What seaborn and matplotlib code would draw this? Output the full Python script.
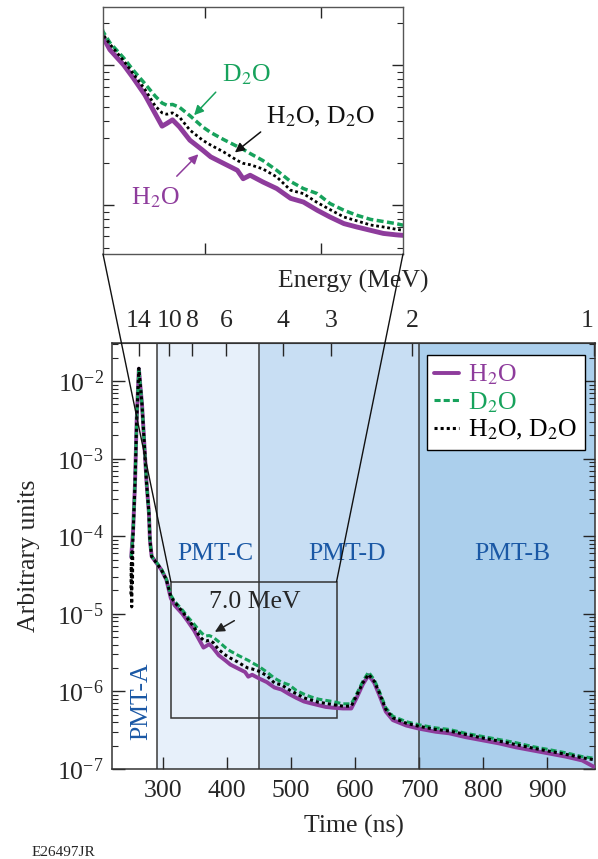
import numpy as np
import matplotlib
matplotlib.use('Agg')
import matplotlib.pyplot as plt
import matplotlib.ticker as mticker
import seaborn as sns
from matplotlib.patches import Rectangle, ConnectionPatch

# traces (log10 of arbitrary units vs. time in ns)
time_ns = [250, 253, 256, 258.5, 262, 267, 271.5, 274, 277.7, 279.3, 282, 290, 297, 305,
           312, 318, 330, 338, 348, 357, 363, 367, 372, 378, 387, 398, 405, 416, 428, 433,
           439, 450, 462, 474, 485, 497, 508, 520, 531, 543, 554, 565, 581, 594, 602, 612,
           621, 630, 638, 648, 659, 680, 700, 726, 747, 773, 799, 825, 851, 877, 903, 929,
           955, 973]
h2o_log = [-4.27, -3.92, -3.31, -2.52, -1.84, -2.31, -2.95, -3.31, -3.70, -4.05, -4.26, -4.35,
           -4.43, -4.56, -4.80, -4.89, -5.00, -5.09, -5.21, -5.345, -5.435, -5.416, -5.39,
           -5.44, -5.535, -5.606, -5.654, -5.70, -5.75, -5.81, -5.785, -5.833, -5.88, -5.95,
           -5.976, -6.035, -6.083, -6.13, -6.154, -6.178, -6.20, -6.21, -6.22, -6.22, -6.09,
           -5.91, -5.79, -5.89, -6.05, -6.26, -6.37, -6.44, -6.48, -6.52, -6.54, -6.59, -6.63,
           -6.67, -6.72, -6.76, -6.80, -6.84, -6.89, -6.97]
d2o_log = [-4.27, -3.92, -3.31, -2.52, -1.83, -2.31, -2.95, -3.31, -3.70, -4.05, -4.26, -4.34,
           -4.42, -4.55, -4.76, -4.84, -4.95, -5.035, -5.13, -5.22, -5.27, -5.285, -5.28,
           -5.30, -5.36, -5.44, -5.48, -5.53, -5.58, -5.60, -5.63, -5.68, -5.75, -5.83,
           -5.88, -5.916, -5.987, -6.035, -6.07, -6.10, -6.115, -6.13, -6.16, -6.16, -6.04,
           -5.87, -5.75, -5.85, -6.00, -6.21, -6.32, -6.39, -6.43, -6.47, -6.49, -6.54, -6.58,
           -6.62, -6.66, -6.71, -6.75, -6.79, -6.84, -6.86]
both_time_ns = [249.6, 250.2, 250.8, 251.4, 252.0, 252.6, 253.2, 256, 258.5, 262, 267, 271.5,
                274, 277.7, 279.3, 282, 290, 297, 305, 312, 318, 330, 338, 348, 357, 363, 367,
                372, 378, 387, 398, 405, 416, 428, 433, 439, 450, 462, 474, 485, 497, 508, 520,
                531, 543, 554, 565, 581, 594, 602, 612, 621, 630, 638, 648, 659, 680, 700, 726,
                747, 773, 799, 825, 851, 877, 903, 929, 955, 973]
both_log = [-4.75, -4.35, -4.91, -4.20, -4.60, -4.05, -3.92, -3.31, -2.52, -1.835, -2.31, -2.95,
            -3.31, -3.70, -4.05, -4.26, -4.35, -4.43, -4.56, -4.78, -4.85, -4.97, -5.06, -5.17,
            -5.29, -5.34, -5.35, -5.34, -5.37, -5.463, -5.535, -5.57, -5.618, -5.68, -5.70,
            -5.71, -5.74, -5.797, -5.892, -5.916, -5.98, -6.03, -6.083, -6.11, -6.14, -6.154,
            -6.17, -6.19, -6.19, -6.06, -5.89, -5.78, -5.87, -6.02, -6.23, -6.34, -6.41, -6.45,
            -6.49, -6.51, -6.555, -6.60, -6.64, -6.685, -6.73, -6.77, -6.81, -6.856, -6.88]

h2o = 10 ** np.array(h2o_log)
d2o = 10 ** np.array(d2o_log)
both = 10 ** np.array(both_log)

time_ticks = [300, 400, 500, 600, 700, 800, 900]
energy_ticks = [14, 10, 8, 6, 4, 3, 2, 1]
pmt_edges = [290, 450, 700]
pmt_names = ['PMT-C', 'PMT-D', 'PMT-B']
pmt_label_x = [381, 587, 846]

# time-of-flight calibration E = K / (t - T0)^2
K_TOF = 941500.0
T0 = 2.7

PURPLE = '#8e3c9c'
GREEN = '#17a25c'
BLUE_TXT = '#1a58a5'
SPAN_COLORS = ['#e7f0fa', '#c8def3', '#abcfec']
FS = 18.5

sns.set_style('ticks')
plt.rcParams['font.family'] = ['Liberation Serif', 'DejaVu Serif']
plt.rcParams['mathtext.fontset'] = 'stix'
plt.rcParams['font.size'] = FS

fig = plt.figure(figsize=(5.98, 8.59), dpi=100)
ax = fig.add_axes([112 / 598, 1 - 769 / 859, 483 / 598, 426 / 859])
axin = fig.add_axes([103 / 598, 1 - 254 / 859, 300 / 598, 247 / 859])

# main plot
edges = pmt_edges + [975]
for i in range(3):
    ax.axvspan(edges[i], edges[i + 1], color=SPAN_COLORS[i], lw=0, zorder=0)
for x in pmt_edges:
    ax.axvline(x, color='#3a3a3a', lw=1.1, zorder=1)

sns.lineplot(x=time_ns, y=h2o, ax=ax, color=PURPLE, lw=2.8, label='H$_2$O', zorder=3)
sns.lineplot(x=time_ns, y=d2o, ax=ax, color=GREEN, lw=2.2, linestyle=(0, (2, 1)),
             label='D$_2$O', zorder=4)
sns.lineplot(x=both_time_ns, y=both, ax=ax, color='black', lw=2.2, linestyle=(0, (1, 1)),
             label='H$_2$O, D$_2$O', zorder=5)

ax.set_yscale('log')
ax.set_xlim(220, 975)
ax.set_ylim(1e-7, 3.1e-2)
ax.set_xticks(time_ticks)
ax.yaxis.set_minor_locator(mticker.LogLocator(base=10, subs=np.arange(2, 10), numticks=20))
ax.tick_params(axis='both', which='major', direction='in', length=9, width=1, labelsize=FS)
ax.tick_params(axis='y', which='both', right=True, direction='in')
ax.tick_params(axis='y', which='minor', length=4.5, width=0.8)
ax.tick_params(axis='x', pad=8)
ax.tick_params(axis='y', pad=6)
for s in ax.spines.values():
    s.set_color('#333333')
    s.set_linewidth(1.1)
ax.set_xlabel('Time (ns)', fontsize=FS, labelpad=9)
ax.set_ylabel('Arbitrary units', fontsize=FS, labelpad=12)

for name, x in zip(pmt_names, pmt_label_x):
    ax.text(x, 10 ** -4.227, name, color=BLUE_TXT, ha='center', va='center', fontsize=FS, zorder=6)
ax.text(265, 10 ** -6.12, 'PMT-A', color=BLUE_TXT, ha='center', va='center', fontsize=FS,
        rotation=90, zorder=6)

# zoom box
ax.add_patch(Rectangle((312, 4.5e-7), 571 - 312, 2.6e-5 - 4.5e-7, fill=False,
                       edgecolor='#333333', lw=1.1, zorder=2))
ax.text(443, 10 ** -4.844, '7.0 MeV', ha='center', va='center', fontsize=FS, zorder=6)
ax.annotate('', xy=(377, 10 ** -5.25), xytext=(415, 10 ** -5.07),
            arrowprops=dict(arrowstyle='-|>', color='#222222', lw=1.1, mutation_scale=14),
            zorder=6)

leg = ax.legend(loc='upper right', bbox_to_anchor=(0.979, 0.972), borderaxespad=0,
                fontsize=FS, handlelength=0.95, handletextpad=0.35, labelspacing=0.12,
                borderpad=0.3, fancybox=False, framealpha=1, edgecolor='black',
                labelcolor='linecolor')
leg.get_frame().set_linewidth(1.0)
leg.set_zorder(7)

# energy scale on top
def t_to_e(t):
    t = np.asarray(t, dtype=float)
    with np.errstate(divide='ignore', invalid='ignore'):
        return K_TOF / (t - T0) ** 2

def e_to_t(e):
    e = np.asarray(e, dtype=float)
    with np.errstate(divide='ignore', invalid='ignore'):
        return T0 + np.sqrt(K_TOF / e)

sec = ax.secondary_xaxis('top', functions=(t_to_e, e_to_t))
sec.set_xticks(energy_ticks)
sec.set_xticklabels([str(e) for e in energy_ticks])
sec.tick_params(direction='in', length=9, width=1, pad=8, labelsize=FS)
sec.get_xticklabels()[-1].set_ha('right')
sec.spines['top'].set_color('#333333')
sec.set_xlabel('Energy (MeV)', fontsize=FS, labelpad=16)

# inset
sns.lineplot(x=time_ns, y=h2o, ax=axin, color=PURPLE, lw=3.5)
sns.lineplot(x=time_ns, y=d2o, ax=axin, color=GREEN, lw=2.5, linestyle=(0, (2, 1)))
sns.lineplot(x=both_time_ns, y=both, ax=axin, color='black', lw=2.0, linestyle=(0, (1, 1)))
axin.set_yscale('log')
axin.set_xlim(312, 571)
axin.set_ylim(4.5e-7, 2.6e-5)
axin.set_xticks([400, 500])
axin.yaxis.set_minor_locator(mticker.LogLocator(base=10, subs=np.arange(2, 10), numticks=20))
axin.tick_params(axis='both', which='both', direction='in', top=True, right=True,
                 labelbottom=False, labelleft=False)
axin.tick_params(which='major', length=8, width=1)
axin.tick_params(which='minor', length=4, width=0.8)
for s in axin.spines.values():
    s.set_color('#555555')
    s.set_linewidth(1.0)
axin.set_xlabel('')
axin.set_ylabel('')
if axin.get_legend() is not None:
    axin.get_legend().remove()

arrow_kw = dict(arrowstyle='-|>', lw=1.1, mutation_scale=14)
axin.text(436, 10 ** -5.071, 'D$_2$O', color=GREEN, ha='center', va='center', fontsize=FS)
axin.annotate('', xy=(389, 10 ** -5.371), xytext=(411, 10 ** -5.178),
              arrowprops=dict(color=GREEN, **arrow_kw))
axin.text(500, 10 ** -5.371, 'H$_2$O, D$_2$O', color='#111111', ha='center', va='center', fontsize=FS)
axin.annotate('', xy=(424, 10 ** -5.635), xytext=(450, 10 ** -5.464),
              arrowprops=dict(color='#111111', **arrow_kw))
axin.text(357, 10 ** -5.942, 'H$_2$O', color=PURPLE, ha='center', va='center', fontsize=FS)
axin.annotate('', xy=(396, 10 ** -5.621), xytext=(374, 10 ** -5.806),
              arrowprops=dict(color=PURPLE, **arrow_kw))

# connectors from the inset to the zoom box
for xa, xb in [(0, 312), (1, 571)]:
    con = ConnectionPatch(xyA=(xa, 0), coordsA=axin.transAxes, xyB=(xb, 2.6e-5),
                          coordsB=ax.transData, color='#111111', lw=1.0, zorder=10)
    fig.add_artist(con)

fig.text(32 / 598, 1 - 852 / 859, 'E26497JR', fontsize=11, ha='left', va='center')

fig.savefig('out.png', dpi=100)
